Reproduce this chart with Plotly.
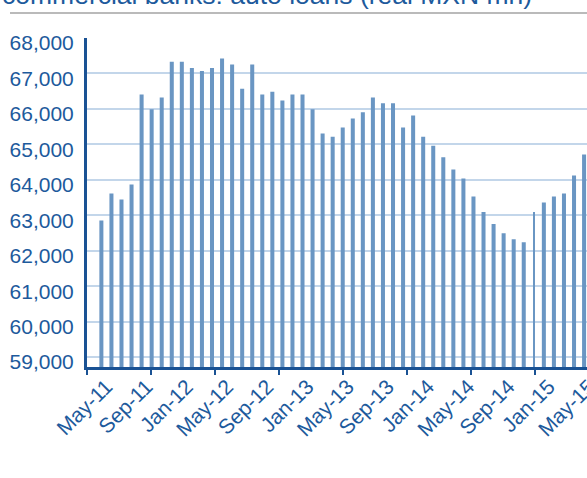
import pandas as pd
import plotly.graph_objects as go

# Commercial banks: auto loan portfolio, real MXN millions, monthly May-2011 .. May-2015
months = pd.date_range("2011-05-01", "2015-05-01", freq="MS").strftime("%b-%y").tolist()
auto_loans = [
    62850, 63615, 63445, 63870, 66404, 65990, 66321, 67332, 67332, 67156,
    67068, 67156, 67420, 67253, 66569, 67253, 66404, 66486, 66239, 66404,
    66404, 65990, 65303, 65218, 65473, 65728, 65907, 66321, 66156, 66156,
    65473, 65813, 65218, 64964, 64636, 64291, 64039, 63530, 63093, 62755,
    62494, 62323, 62237, 63093, 63360, 63530, 63615, 64123, 64711,
]
tick_labels = ["May-11", "Sep-11", "Jan-12", "May-12", "Sep-12", "Jan-13", "May-13",
               "Sep-13", "Jan-14", "May-14", "Sep-14", "Jan-15", "May-15"]
y_ticks = [59000, 60000, 61000, 62000, 63000, 64000, 65000, 66000, 67000, 68000]

TEXT = "#1d5a9c"
AXIS = "#1a5294"
BAR = "#6a96c3"
GRID = "#c3d6ea"

x_idx = list(range(len(auto_loans)))
tick_pos = [months.index(m) for m in tick_labels]
bar_widths = [0.4] * len(auto_loans)
bar_widths[months.index("Dec-14")] = 0.14

fig = go.Figure(go.Bar(
    x=x_idx, y=auto_loans, width=bar_widths,
    marker=dict(color=BAR, line=dict(width=0)),
    hovertext=months, hoverinfo="text+y",
))

fig.update_layout(
    width=587, height=478,
    margin=dict(l=87, r=0, t=38, b=111),
    paper_bgcolor="white", plot_bgcolor="white",
    showlegend=False,
    font=dict(family="Liberation Sans, Arial, sans-serif", color=TEXT),
    xaxis=dict(
        automargin=False,
        range=[-1.43, 48.29],
        tickmode="array", tickvals=tick_pos, ticktext=tick_labels,
        tickangle=-45, tickfont=dict(size=21, color=TEXT),
        ticks="outside", ticklen=0, tickcolor="rgba(0,0,0,0)",
        ticklabelstandoff=-4, ticklabelshift=5,
        ticklabeloverflow="allow",
        showgrid=False, zeroline=False,
        showline=True, linecolor=AXIS, linewidth=3,
        minor=dict(ticks="outside", ticklen=5, tickwidth=2, tickcolor=AXIS,
                   tick0=-1.43, dtick=6.37, showgrid=False),
    ),
    yaxis=dict(
        automargin=False,
        range=[58720, 68000],
        tickmode="array", tickvals=y_ticks,
        tickformat=",d", tickfont=dict(size=21, color=TEXT),
        ticks="", ticklabelstandoff=6, ticklabelshift=5,
        showgrid=True, gridcolor=GRID, gridwidth=1.5,
        zeroline=False,
        showline=True, linecolor=AXIS, linewidth=3,
    ),
    annotations=[dict(
        text="commercial banks: auto loans (real MXN mn)",
        xref="paper", yref="paper", x=-0.174, y=1.079,
        xanchor="left", yanchor="bottom", showarrow=False,
        font=dict(size=26.5, color=TEXT),
    )],
    shapes=[dict(
        type="line", xref="paper", yref="paper",
        x0=-0.154, x1=1.0, y0=1.076, y1=1.076,
        line=dict(color="#a3a3a3", width=1.5),
    )],
)

fig.write_html("out.html")
